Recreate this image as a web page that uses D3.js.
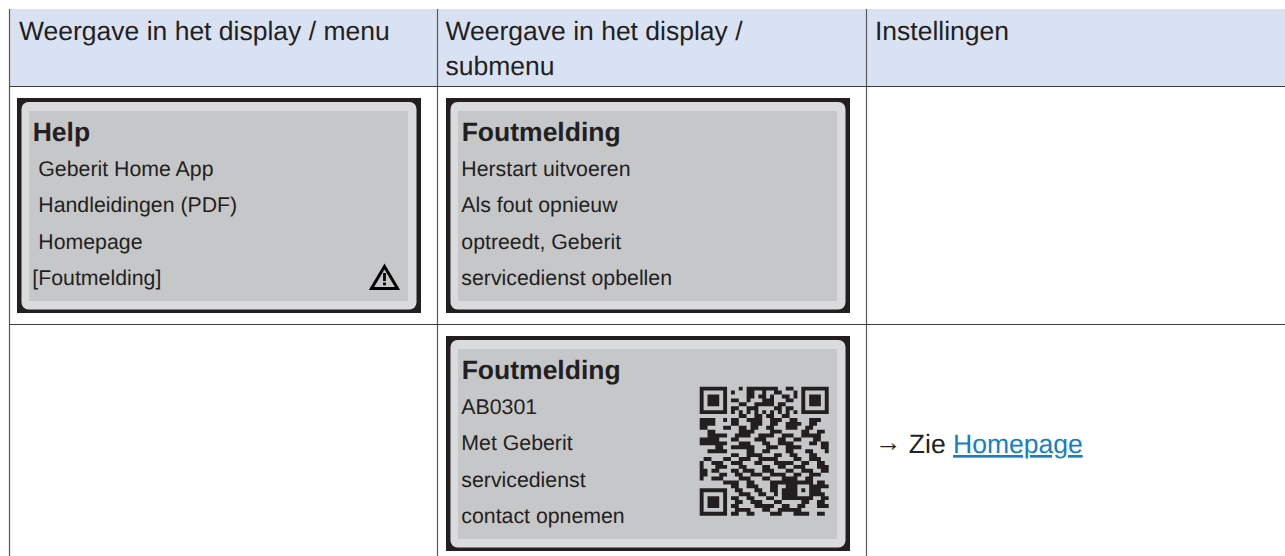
<!DOCTYPE html>
<html>
<head>
<meta charset="utf-8">
<script src="https://cdn.jsdelivr.net/npm/d3@7"></script>
<style>
  html, body { margin: 0; padding: 0; background: #fff; }
  svg { display: block; }
  text { font-family: "Liberation Sans", Arial, sans-serif; fill: #231f20; text-rendering: geometricPrecision; }
</style>
</head>
<body>
<svg id="chart" width="1285" height="556"></svg>
<script>
const headers = [
    ['Weergave in het display / menu'],
    ['Weergave in het display /', 'submenu'],
    ['Instellingen']
];
const helpTitle = 'Help';
const helpItems = [' Geberit Home App', ' Handleidingen (PDF)', ' Homepage', '[Foutmelding]'];
const errorTitle = 'Foutmelding';
const errorItems = ['Herstart uitvoeren', 'Als fout opnieuw', 'optreedt, Geberit', 'servicedienst opbellen'];
const contactItems = ['AB0301', 'Met Geberit', 'servicedienst', 'contact opnemen'];
const noteArrow = '→';
const noteZie = ' Zie ';
const noteLink = 'Homepage';

// QR modules
const qrRows = [
    '111111100010111111110011001111111',
    '100000101000110010011000101000001',
    '101110100000110110100110101011101',
    '101110101100100011100011001011101',
    '101110100011001111101100001011101',
    '100000101100111000011011001000001',
    '111111101010101010101010101111111',
    '000000000011001101100110000000000',
    '111100101100111100111001100011100',
    '111100001100011100110011110011000',
    '110000110011011001100011100110000',
    '001100000011110000111000001100110',
    '001111100111100111100111001111100',
    '111110001100001110001100110001100',
    '111111100011100011001111000011011',
    '000011001111110001110011110000011',
    '001111100000110011000011000110001',
    '000000001100111100011001100011000',
    '011000110011100111110000110011100',
    '100111001110001100011111001100110',
    '100011100011000011001100111000111',
    '110110001101110011100011001110011',
    '110001100110011100111100110011100',
    '100111000011100011000111100110000',
    '000000111100110000111111111110110',
    '000000001100111000110011100011111',
    '111111100110001100110111101011100',
    '100000100011100110010111100011110',
    '101110101100110001100111111110011',
    '101110100110011100011000001100110',
    '101110101100001111100110011000111',
    '100000100111100011001111110000000',
    '111111101100110000111000111100110'
];

const svg = d3.select('#chart');
const ink = '#231f20';

// table
const colX = [9.5, 437.5, 866.5];
const rowY = [86.5, 324.5];

svg.append('rect')
    .attr('x', 9).attr('y', 9)
    .attr('width', 1276).attr('height', 77.5)
    .attr('fill', '#d9e2f3');

svg.append('g').selectAll('line')
    .data(colX)
    .enter()
    .append('line')
    .attr('x1', d => d).attr('x2', d => d)
    .attr('y1', 9).attr('y2', 556)
    .attr('stroke', '#5a5a5c')
    .attr('stroke-width', 1.2);

svg.append('g').selectAll('line')
    .data(rowY)
    .enter()
    .append('line')
    .attr('x1', 9).attr('x2', 1285)
    .attr('y1', d => d).attr('y2', d => d)
    .attr('stroke', '#3c3c3e')
    .attr('stroke-width', 1.2);

const headerX = [19, 445.5, 875];
const headerG = svg.append('g');
headers.forEach((lines, i) => {
    headerG.selectAll(null)
        .data(lines)
        .enter()
        .append('text')
        .attr('x', headerX[i])
        .attr('y', (d, j) => 39.5 + j * 35)
        .attr('font-size', 26.5)
        .text(d => d);
});

// one display panel: black frame, light bezel, grey screen
function drawDisplay(x, y, h, title, items) {
    const g = svg.append('g').attr('transform', `translate(${x},${y})`);
    g.append('rect').attr('width', 404).attr('height', h).attr('fill', ink);
    g.append('rect')
        .attr('x', 4.5).attr('y', 4)
        .attr('width', 395).attr('height', h - 7.5)
        .attr('rx', 7).attr('fill', '#d9dbdd');
    g.append('rect')
        .attr('x', 12).attr('y', 13)
        .attr('width', 379).attr('height', h - 25)
        .attr('fill', '#c6c7c9');
    g.append('text')
        .attr('x', 15.7).attr('y', 43)
        .attr('font-size', 26.5)
        .attr('font-weight', 'bold')
        .text(title);
    g.selectAll('text.item')
        .data(items)
        .enter()
        .append('text')
        .attr('class', 'item')
        .attr('x', d => d.startsWith(' ') ? 21.3 : 15.3)
        .attr('y', (d, i) => 78 + i * 36.3)
        .attr('font-size', 21.3)
        .text(d => d.trim());
    return g;
}

const helpPanel = drawDisplay(17, 98, 215, helpTitle, helpItems);
drawDisplay(446, 98, 215, errorTitle, errorItems);
const qrPanel = drawDisplay(446, 336, 215, errorTitle, contactItems);

// warning triangle
const warn = helpPanel.append('g').attr('transform', 'translate(367.5,179)');
warn.append('path')
    .attr('d', d3.line()([[0, -10.5], [13, 11.5], [-13, 11.5]]) + 'Z')
    .attr('fill', 'none')
    .attr('stroke', '#000')
    .attr('stroke-width', 3);
warn.append('rect').attr('x', -1.4).attr('y', -4).attr('width', 2.8).attr('height', 8).attr('fill', '#000');
warn.append('rect').attr('x', -1.4).attr('y', 5.5).attr('width', 2.8).attr('height', 2.8).attr('fill', '#000');

// QR code, one path so the modules have no seams
const qrScale = d3.scaleBand().domain(d3.range(qrRows.length)).range([0, 129]);
const qrStep = qrScale.bandwidth();
let qrPath = '';
qrRows.forEach((row, r) => {
    row.split('').forEach((v, c) => {
        if (v === '1') {
            qrPath += `M${qrScale(c)},${qrScale(r)}h${qrStep}v${qrStep}h${-qrStep}Z`;
        }
    });
});
qrPanel.append('path')
    .attr('transform', 'translate(253.7,50.7)')
    .attr('d', qrPath)
    .attr('fill', ink);

// note in the last column
const note = svg.append('text')
    .attr('x', 875).attr('y', 453)
    .attr('font-size', 26.5);
note.append('tspan').attr('dy', -2).text(noteArrow);
note.append('tspan').attr('dy', 2).text(noteZie);
note.append('tspan')
    .style('fill', '#1380c6')
    .attr('text-decoration', 'underline')
    .text(noteLink);
</script>
</body>
</html>
